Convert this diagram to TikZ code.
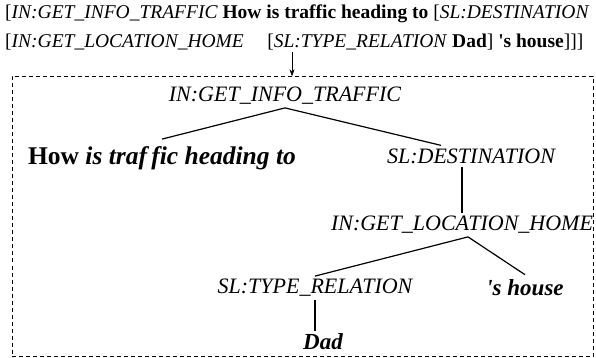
\documentclass[tikz,border=0pt]{standalone}
\usepackage{fontspec}
\setmainfont{Liberation Serif}
\usetikzlibrary{arrows.meta}

\begin{document}
\begin{tikzpicture}[x=1pt,y=-1pt,
    src/.style={anchor=west,inner sep=0pt,font=\fontsize{19.5}{22}\selectfont},
    tag/.style={inner sep=3pt,font=\fontsize{22}{26}\selectfont\itshape},
    word/.style={inner sep=3pt,font=\fontsize{23}{26}\selectfont\bfseries\itshape},
    branch/.style={line width=1.2pt},
    frame/.style={draw,dash pattern=on 4pt off 3pt,thin}]
      \useasboundingbox (0,0) rectangle (596,358);
      % bracketed source string
      \node[src] (src1) at (5,14) {[\textit{IN:GET\_INFO\_TRAFFIC} \textbf{How is traffic heading to} [\textit{SL:DESTINATION}};
      \node[src] (src2) at (5,42) {[\textit{IN:GET\_LOCATION\_HOME}\hspace{1.2em}[\textit{SL:TYPE\_RELATION} \textbf{Dad}] \textbf{\textquotesingle s house}]]]};
      \node[frame,minimum width=581,minimum height=280,inner sep=0pt] (box) at (302.5,216.5) {};
      \draw[-{Stealth[length=7pt,width=5pt]}] ([yshift=-2pt]src2.south -| 292,0) -- (box.north -| 292,0);
      % tree
      \node[tag] (root) at (285,96) {IN:GET\_INFO\_TRAFFIC};
      \node[word,font=\fontsize{25.5}{28}\selectfont\bfseries\itshape] (how) at (162,158) {\upshape How \itshape is traf\,fic heading to};
      \node[tag] (dest) at (471,156) {SL:DESTINATION};
      \node[tag] (loc) at (462,225) {IN:GET\_LOCATION\_HOME};
      \node[tag] (rel) at (315,288) {SL:TYPE\_RELATION};
      \node[word] (house) at (525,288) {\textquotesingle s house};
      \node[word] (dad) at (323,342) {Dad};
      \draw[branch] ([yshift=4pt]how.north) -- (root.south) -- ([xshift=-30pt]dest.north);
      \draw[branch] (loc.north |- dest.south) -- (loc.north);
      \draw[branch] (rel.north) -- ([xshift=6pt]loc.south) -- ([yshift=2pt]house.north);
      \draw[branch] (rel.south) -- (rel.south |- dad.north);
\end{tikzpicture}
\end{document}
